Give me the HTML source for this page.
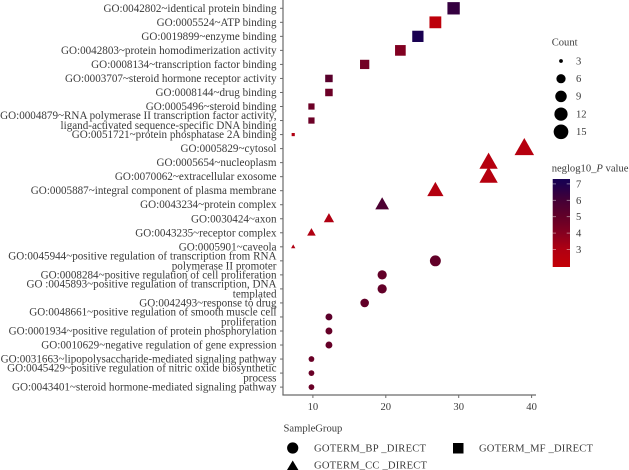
<!DOCTYPE html>
<html>
<head>
<meta charset="utf-8">
<style>
html,body{margin:0;padding:0;background:#fff}
svg{display:block;filter:blur(0.3px)}
text{font-family:"Liberation Serif",serif;font-size:10.6px;fill:#3a3a3a}
text.ylab{font-size:11.1px}
</style>
</head>
<body>
<svg id="chart" width="629" height="470" viewBox="0 0 629 470" xmlns="http://www.w3.org/2000/svg">
<defs>
<linearGradient id="cbar" x1="0" y1="1" x2="0" y2="0">
<stop offset="0" stop-color="#c40006"/>
<stop offset="0.2" stop-color="#b00012"/>
<stop offset="0.39" stop-color="#840020"/>
<stop offset="0.57" stop-color="#620028"/>
<stop offset="0.76" stop-color="#440036"/>
<stop offset="0.94" stop-color="#1e004e"/>
<stop offset="1" stop-color="#160052"/>
</linearGradient>
</defs>
<g id="plot"></g>
<line x1="283" y1="0" x2="283" y2="395" stroke="#6a6a6a" stroke-width="1.2"/>
<line x1="282.4" y1="395" x2="536" y2="395" stroke="#6a6a6a" stroke-width="1.2"/>
<g id="axes"></g>

<text x="551.7" y="45.5">Count</text>
<g id="sizeLegend"></g>

<text x="551.7" y="171.5">neglog10_<tspan font-style="italic">P</tspan> value</text>
<rect x="552.7" y="179" width="17.3" height="88" fill="url(#cbar)"/>
<g id="colorLegend"></g>

<text x="283.5" y="431.5">SampleGroup</text>
<circle cx="292.7" cy="448" r="5.6" fill="#000"/>
<text x="314" y="451.5" textLength="112" lengthAdjust="spacing">GOTERM_BP _DIRECT</text>
<polygon points="292.7,460.5 298.4,470 287,470" fill="#000"/>
<text x="314" y="468.5" textLength="113" lengthAdjust="spacing">GOTERM_CC _DIRECT</text>
<rect x="453" y="443" width="10.5" height="10.5" fill="#000"/>
<text x="479" y="451.5" textLength="114" lengthAdjust="spacing">GOTERM_MF _DIRECT</text>
</svg>
<script>
const categories = [
"GO:0042802~identical protein binding",
"GO:0005524~ATP binding",
"GO:0019899~enzyme binding",
"GO:0042803~protein homodimerization activity",
"GO:0008134~transcription factor binding",
"GO:0003707~steroid hormone receptor activity",
"GO:0008144~drug binding",
"GO:0005496~steroid binding",
"GO:0004879~RNA polymerase II transcription factor activity,\nligand-activated sequence-specific DNA binding",
"GO:0051721~protein phosphatase 2A binding",
"GO:0005829~cytosol",
"GO:0005654~nucleoplasm",
"GO:0070062~extracellular exosome",
"GO:0005887~integral component of plasma membrane",
"GO:0043234~protein complex",
"GO:0030424~axon",
"GO:0043235~receptor complex",
"GO:0005901~caveola",
"GO:0045944~positive regulation of transcription from RNA\npolymerase II promoter",
"GO:0008284~positive regulation of cell proliferation",
"GO :0045893~positive regulation of transcription, DNA\ntemplated",
"GO:0042493~response to drug",
"GO:0048661~positive regulation of smooth muscle cell\nproliferation",
"GO:0001934~positive regulation of protein phosphorylation",
"GO:0010629~negative regulation of gene expression",
"GO:0031663~lipopolysaccharide-mediated signaling pathway",
"GO:0045429~positive regulation of nitric oxide biosynthetic\nprocess",
"GO:0043401~steroid hormone-mediated signaling pathway"
];
const groups = ["MF","MF","MF","MF","MF","MF","MF","MF","MF","MF","CC","CC","CC","CC","CC","CC","CC","CC","BP","BP","BP","BP","BP","BP","BP","BP","BP","BP"];
const percents = [29.3,26.8,24.4,22,17.1,12.2,12.2,9.8,9.8,7.3,39,34.1,34.1,26.8,19.5,12.2,9.8,7.3,26.8,19.5,19.5,17.1,12.2,12.2,12.2,9.8,9.8,9.8];
const counts = [12,11,10,9,7,5,5,4,4,3,16,14,14,11,8,5,4,3,11,8,8,7,5,5,5,4,4,4];
const pvalues = [6.4,2.3,7.2,4.1,4.5,5.3,4.7,4.7,4.7,3.0,2.7,2.7,2.7,2.8,5.7,3.0,3.0,3.0,5.0,5.0,5.0,5.0,5.2,4.9,4.9,4.8,4.8,4.8];
const xTicks = [10,20,30,40];
const sizeLegendCounts = [3,6,9,12,15];
const colorLegendValues = [3,4,5,6,7];

const NS = "http://www.w3.org/2000/svg";
const xScale = v => 240 + 7.29 * v;
const yScale = i => 8.3 + 14.03 * i;
const cbarY = v => 249.5 - 16.4 * (v - 3);
const diam = c => 3.4 + 11.4 * Math.sqrt(Math.max(c - 3, 0) / 12);
const palette = [[1.93,196,0,6],[3,176,0,18],[4,132,0,32],[5,98,0,40],[6,68,0,54],[7,30,0,78],[7.3,22,0,82]];
function colorOf(v) {
  for (let i = 1; i < palette.length; i++) {
    if (v <= palette[i][0]) {
      const a = palette[i - 1], b = palette[i];
      const t = Math.max(0, (v - a[0]) / (b[0] - a[0]));
      return "rgb(" + [1,2,3].map(k => Math.round(a[k] + (b[k] - a[k]) * t)).join(",") + ")";
    }
  }
  return "rgb(22,0,82)";
}
function make(tag, attrs, parent) {
  const el = document.createElementNS(NS, tag);
  for (const k in attrs) el.setAttribute(k, attrs[k]);
  parent.appendChild(el);
  return el;
}
const plot = document.getElementById("plot");
const axes = document.getElementById("axes");
const sizeLegend = document.getElementById("sizeLegend");
const colorLegend = document.getElementById("colorLegend");

categories.forEach((label, i) => {
  const y = yScale(i);
  const tick = make("line", {x1: 280, x2: 283, y1: y, y2: y, stroke: "#6a6a6a", "stroke-width": 1}, axes);
  
  
  const lines = label.split("\n");
  lines.forEach((ln, j) => {
    const by = y + 3.5 + (lines.length > 1 ? (j === 0 ? -5 : 5) : 0);
    const t = make("text", {x: 276.5, y: by, "text-anchor": "end", class: "ylab"}, axes);
    t.textContent = ln;
    
    
  });

  const cx = xScale(percents[i]);
  const d = diam(counts[i]);
  const fill = colorOf(pvalues[i]);
  let m;
  if (groups[i] === "BP") {
    m = make("circle", {cx: cx, cy: y, r: d * 0.43, fill: fill}, plot);
    
  } else if (groups[i] === "CC") {
    const w = d * 1.28, h = w * 0.88;
    const top = (y - h * 0.62) , base = (y + h * 0.38);
    m = make("polygon", {points: cx + "," + top + " " + (cx + w / 2) + "," + base + " " + (cx - w / 2) + "," + base, fill: fill}, plot);
    
  } else {
    const s = d * 0.93;
    m = make("rect", {x: cx - s / 2, y: y - s / 2, width: s, height: s, fill: fill}, plot);
    
  }
  
});

xTicks.forEach(v => {
  const x = xScale(v);
  const tick = make("line", {x1: x, x2: x, y1: 395, y2: 398, stroke: "#6a6a6a", "stroke-width": 1}, axes);
  
  
  const t = make("text", {x: x, y: 410, "text-anchor": "middle"}, axes);
  t.textContent = v;
  
  
});

sizeLegendCounts.forEach((c, i) => {
  const y = 61 + i * 17.7;
  const dot = make("circle", {cx: 561, cy: y, r: (diam(c) + 0.5) * 0.48, fill: "#000"}, sizeLegend);
  
  
  const t = make("text", {x: 576, y: y + 3.3}, sizeLegend);
  t.textContent = c;
  
  
});

colorLegendValues.forEach(v => {
  const y = cbarY(v);
  [[552.7, 556], [566.7, 570]].forEach(p => {
    const tick = make("line", {x1: p[0], x2: p[1], y1: y, y2: y, stroke: "#fff", "stroke-opacity": 0.55, "stroke-width": 0.8}, colorLegend);
    
    
  });
  const t = make("text", {x: 576, y: y + 3.5}, colorLegend);
  t.textContent = v;
  
  
});
</script>
</body>
</html>
